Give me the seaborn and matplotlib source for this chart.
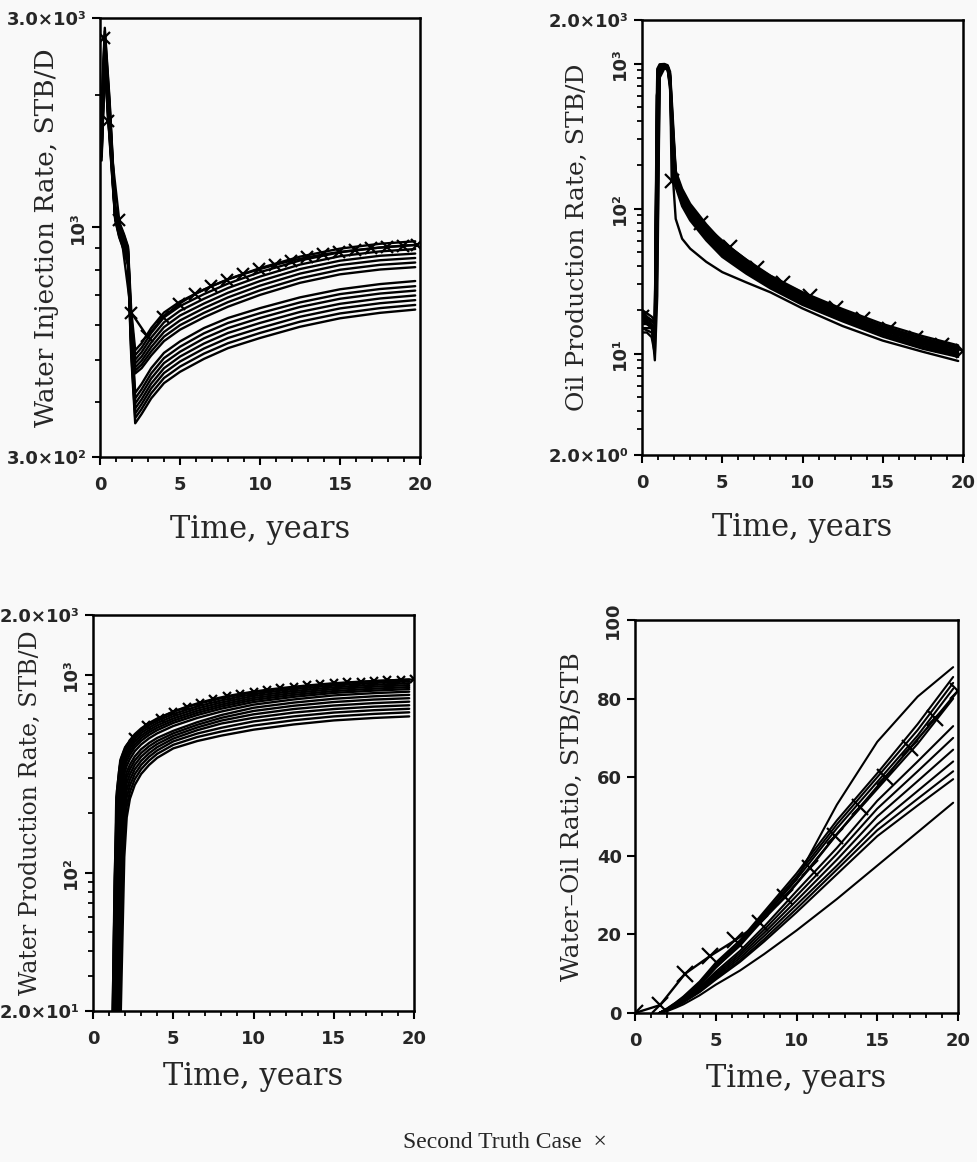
import numpy as np
import pandas as pd
import matplotlib
matplotlib.use("Agg")
import matplotlib.pyplot as plt
from matplotlib.ticker import FixedLocator, MultipleLocator, NullFormatter
import seaborn as sns

# ---------------- Water injection rate, STB/D ----------------
inj_time = [0.1, 0.3, 0.6, 0.95, 1.2, 1.5, 1.75, 1.95, 2.2, 2.6,
            3.2, 4.0, 5.0, 6.5, 8.0, 10.0, 12.5, 15.0, 17.5, 19.7]
inj_upper = [
    [1900, 2850, 1950, 1120, 1030, 965, 905, 650, 525, 545, 590, 640, 678, 722, 762, 808, 858, 895, 918, 930],
    [1780, 2750, 1880, 1100, 1015, 950, 890, 625, 512, 532, 575, 624, 662, 705, 745, 791, 841, 878, 900, 912],
    [1700, 2650, 1820, 1090, 1000, 938, 875, 605, 500, 520, 561, 608, 646, 688, 728, 773, 823, 860, 882, 893],
    [1620, 2560, 1760, 1075, 990, 925, 862, 590, 490, 508, 547, 593, 630, 671, 710, 755, 804, 840, 862, 872],
    [1560, 2480, 1700, 1065, 978, 912, 850, 575, 480, 497, 534, 578, 614, 655, 693, 737, 785, 821, 842, 852],
    [1500, 2420, 1650, 1055, 968, 900, 838, 560, 472, 487, 522, 564, 599, 639, 676, 719, 766, 801, 822, 832],
    [1450, 2360, 1600, 1045, 955, 888, 825, 548, 465, 478, 511, 551, 585, 624, 660, 702, 748, 782, 802, 812],
]
inj_lower = [
    [1850, 2800, 1920, 1110, 1022, 958, 898, 600, 420, 440, 478, 518, 550, 590, 622, 655, 693, 723, 743, 755],
    [1720, 2700, 1850, 1095, 1008, 945, 882, 580, 408, 428, 465, 504, 535, 574, 606, 638, 675, 705, 724, 735],
    [1640, 2600, 1790, 1082, 995, 932, 868, 562, 397, 417, 453, 491, 521, 559, 590, 622, 659, 688, 707, 718],
    [1580, 2520, 1730, 1070, 984, 920, 856, 548, 387, 406, 441, 478, 508, 544, 575, 606, 642, 670, 689, 700],
    [1520, 2450, 1680, 1060, 972, 908, 845, 535, 377, 396, 430, 466, 495, 530, 560, 590, 626, 654, 672, 683],
    [1470, 2390, 1630, 1050, 962, 896, 833, 522, 368, 386, 419, 454, 482, 516, 545, 575, 610, 637, 655, 666],
    [1420, 2330, 1580, 1040, 950, 884, 820, 510, 358, 376, 408, 442, 469, 502, 531, 560, 594, 621, 639, 650],
]
inj_truth_time = [0.25, 0.5, 1.2, 1.95, 2.95, 3.95, 4.95, 5.95, 6.95, 7.95, 8.95,
                  9.95, 10.95, 11.95, 12.95, 13.95, 14.95, 15.95, 16.95, 17.95, 18.95, 19.8]
inj_truth = [2700, 1750, 1040, 640, 565, 625, 670, 706, 735, 760, 783,
             803, 822, 840, 855, 868, 879, 888, 896, 903, 909, 913]

# ---------------- Oil production rate, STB/D ----------------
oil_time = [0.0, 0.3, 0.6, 0.8, 0.95, 1.1, 1.4, 1.6, 1.75, 1.9, 2.1,
            2.5, 3.0, 4.0, 5.0, 6.5, 8.0, 10.0, 12.5, 15.0, 17.5, 19.7]
oil_runs = [
    [20, 19, 18, 17, 920, 990, 995, 975, 880, 460, 182, 137, 108, 78, 59, 44.5, 34.5, 26.5, 20.3, 16.0, 13.2, 11.4],
    [19, 18, 17, 16, 880, 975, 985, 960, 850, 420, 176, 132, 104, 75.5, 57, 43, 33.6, 25.8, 19.7, 15.5, 12.8, 11.1],
    [18, 17.5, 17, 16, 700, 960, 975, 950, 820, 380, 171, 128, 101, 73, 55.5, 41.8, 32.8, 25.2, 19.2, 15.1, 12.5, 10.8],
    [17, 16.5, 16, 15, 500, 950, 970, 945, 800, 340, 166, 124, 98, 71, 54, 40.7, 32.0, 24.6, 18.7, 14.7, 12.2, 10.6],
    [16, 16, 15.5, 14, 300, 940, 965, 935, 780, 300, 161, 120, 95, 68.5, 52.5, 39.6, 31.2, 24.0, 18.3, 14.4, 11.9, 10.3],
    [15, 15, 15, 13, 150, 920, 960, 930, 760, 270, 156, 116, 92, 66.5, 51, 38.6, 30.4, 23.4, 17.9, 14.0, 11.6, 10.1],
    [15, 14.5, 14, 12, 80, 900, 950, 920, 740, 250, 151, 112, 89, 64.5, 49.5, 37.6, 29.6, 22.8, 17.5, 13.7, 11.3, 9.9],
    [14, 14, 13, 10, 40, 860, 940, 910, 720, 230, 146, 108, 86, 62.5, 48, 36.6, 28.9, 22.2, 17.1, 13.4, 11.1, 9.7],
    [20, 18, 16, 9, 25, 800, 930, 905, 700, 215, 141, 104, 83, 60.5, 46.5, 35.6, 28.2, 21.7, 16.7, 13.1, 10.8, 9.5],
    [18, 17, 15, 13, 600, 950, 980, 955, 830, 400, 173, 130, 102, 74, 56, 42.4, 33.2, 25.5, 19.4, 15.3, 12.6, 10.9],
    [17, 16, 15, 14, 400, 930, 960, 925, 660, 180, 85, 62, 53, 43, 36.5, 31, 26.5, 20.5, 15.5, 12.3, 10.3, 8.9],
]
oil_truth_time = [0.0, 0.4, 0.8, 0.92, 1.2, 1.6, 1.75, 1.85, 3.7, 5.5, 7.15,
                  8.8, 10.45, 12.1, 13.75, 15.4, 17.05, 18.7, 20.0]
oil_truth = [18, 17.5, 16.5, 600, 975, 960, 800, 155, 80, 54, 39,
             30.5, 25, 20.5, 17.3, 14.8, 12.9, 11.4, 10.5]

# ---------------- Water production rate, STB/D ----------------
wat_time = [1.2, 1.35, 1.5, 1.65, 1.8, 1.95, 2.1, 2.3, 2.6, 3.0,
            3.5, 4.0, 5.0, 6.5, 8.0, 10.0, 12.5, 15.0, 17.5, 19.7]
wat_runs = [
    [14, 95, 260, 340, 385, 415, 440, 465, 500, 535, 570, 600, 650, 710, 760, 815, 862, 900, 927, 945],
    [12, 80, 245, 325, 372, 402, 427, 452, 487, 521, 555, 584, 632, 691, 741, 798, 845, 882, 908, 925],
    [9, 45, 210, 305, 356, 388, 414, 439, 473, 507, 540, 569, 616, 674, 723, 780, 826, 863, 888, 905],
    [7, 25, 165, 280, 338, 372, 399, 425, 459, 492, 525, 554, 600, 657, 706, 762, 808, 845, 869, 885],
    [6, 16, 120, 252, 318, 355, 383, 410, 444, 478, 511, 539, 585, 641, 690, 745, 790, 826, 849, 865],
    [5, 12, 75, 220, 297, 337, 366, 394, 429, 463, 496, 524, 570, 625, 673, 727, 772, 808, 830, 845],
    [4, 9, 40, 180, 272, 315, 346, 375, 410, 444, 477, 505, 550, 604, 651, 705, 749, 785, 806, 820],
    [4, 7, 22, 130, 240, 290, 322, 351, 386, 420, 452, 479, 520, 575, 625, 680, 722, 755, 777, 790],
    [3, 6, 15, 90, 210, 268, 303, 333, 368, 402, 435, 462, 505, 558, 605, 655, 696, 727, 748, 760],
    [3, 5, 11, 55, 178, 245, 283, 314, 350, 385, 418, 446, 490, 541, 586, 630, 670, 698, 718, 730],
    [3, 4, 9, 32, 140, 220, 262, 295, 332, 367, 401, 430, 475, 524, 566, 605, 643, 670, 689, 700],
    [2, 4, 7, 20, 100, 192, 240, 276, 314, 350, 385, 414, 460, 504, 539, 580, 615, 643, 661, 672],
    [2, 3, 6, 14, 60, 160, 216, 256, 296, 333, 368, 398, 442, 484, 516, 553, 588, 615, 633, 645],
    [2, 3, 5, 10, 35, 120, 190, 236, 277, 315, 350, 380, 424, 462, 492, 527, 560, 587, 604, 615],
]
wat_truth_time = [1.2, 1.45, 1.7, 2.0, 2.5, 3.33, 4.17, 5.0, 5.83, 6.67, 7.5, 8.33, 9.17,
                  10.0, 10.83, 11.67, 12.5, 13.33, 14.17, 15.0, 15.83, 16.67, 17.5, 18.33, 19.17, 20.0]
wat_truth = [15, 240, 370, 430, 485, 555, 605, 650, 688, 722, 752, 778, 800,
             820, 838, 854, 868, 881, 893, 904, 913, 921, 928, 934, 940, 945]

# ---------------- Water-oil ratio, STB/STB ----------------
wor_time = [1.5, 2.0, 2.5, 3.0, 4.0, 5.0, 6.5, 8.0, 10.0, 12.5, 15.0, 17.5, 19.7]
wor_runs = [
    [0, 0.9, 2.2, 3.6, 7.0, 11.5, 17.5, 24.5, 34.0, 53.0, 69.0, 80.5, 88.0],
    [0, 1.2, 2.6, 4.2, 8.0, 12.8, 18.5, 25.8, 35.5, 49.0, 61.0, 73.5, 85.5],
    [0, 1.1, 2.5, 4.0, 7.7, 12.4, 18.0, 25.3, 34.7, 48.0, 60.0, 72.0, 84.0],
    [0, 1.0, 2.4, 3.9, 7.5, 12.0, 17.6, 24.8, 34.0, 47.0, 58.8, 70.6, 82.5],
    [0, 1.0, 2.3, 3.8, 7.2, 11.6, 17.1, 24.1, 33.0, 45.5, 57.0, 68.5, 80.0],
    [0, 0.9, 2.1, 3.4, 6.6, 10.5, 15.8, 22.0, 31.0, 42.0, 54.0, 64.0, 73.0],
    [0, 0.8, 2.0, 3.2, 6.3, 10.0, 15.2, 21.2, 29.8, 40.5, 52.0, 61.5, 70.0],
    [0, 0.8, 1.9, 3.1, 6.0, 9.6, 14.6, 20.4, 28.6, 39.0, 50.0, 59.0, 67.0],
    [0, 0.7, 1.8, 3.0, 5.8, 9.2, 14.0, 19.6, 27.5, 37.5, 48.0, 56.5, 64.0],
    [0, 0.7, 1.7, 2.8, 5.5, 8.8, 13.4, 18.8, 26.5, 36.5, 46.5, 54.5, 61.5],
    [0, 0.6, 1.6, 2.7, 5.3, 8.5, 13.0, 18.2, 25.6, 35.3, 45.0, 52.8, 59.5],
    [0, 0.5, 1.3, 2.2, 4.5, 7.2, 10.8, 15.0, 21.0, 29.0, 37.5, 46.0, 53.5],
]
wor_truth_time = [0.0, 1.55, 3.1, 4.65, 6.2, 7.75, 9.3, 10.85, 12.4, 13.95, 15.5, 17.05, 18.6, 20.0]
wor_truth = [0, 2, 10, 14.5, 18.5, 23, 29.5, 37, 45, 52.5, 60, 67.5, 75, 82]

time_ticks = [0, 5, 10, 15, 20]
time_ticklabels = ["0", "5", "10", "15", "20"]
xlabel = "Time, years"


def long_form(time, runs):
    frames = []
    for i, vals in enumerate(runs):
        frames.append(pd.DataFrame({"t": time, "v": vals, "run": i}))
    return pd.concat(frames, ignore_index=True)


sns.set_style("ticks")
plt.rcParams["font.family"] = ["DejaVu Sans"]
plt.rcParams["axes.edgecolor"] = "black"

BG = "#f9f9f9"
fig = plt.figure(figsize=(9.77, 11.62), dpi=100, facecolor=BG)
W, H = 977.0, 1162.0


def make_axes(left, top, right, bottom):
    return fig.add_axes([left / W, 1 - bottom / H, (right - left) / W, (bottom - top) / H], facecolor=BG)


ax1 = make_axes(100, 18, 420, 457)
ax2 = make_axes(642, 20, 963, 455)
ax3 = make_axes(93, 615, 414, 1011)
ax4 = make_axes(635, 620, 958, 1013)

tick_font = dict(family=["DejaVu Sans"], fontweight="bold", fontsize=13)


def draw_runs(ax, time, runs, lw=1.7):
    sns.lineplot(data=long_form(time, runs), x="t", y="v", units="run", estimator=None,
                 color="black", linewidth=lw, ax=ax, legend=False)


def draw_truth(ax, time, vals, first_mark, msize):
    sns.lineplot(x=time, y=vals, color="black", linewidth=1.7, ax=ax, legend=False,
                 estimator=None, sort=False)
    ax.plot(time[first_mark:], vals[first_mark:], linestyle="none", marker="x",
            markersize=msize, markeredgewidth=1.6, color="black")


def frame(ax, ylab, ylab_x, ylab_size, ylim, yticks, yticklabels, yminor=None, log=True):
    if log:
        ax.set_yscale("log")
    ax.set_xlim(0, 20)
    ax.set_ylim(*ylim)
    ax.xaxis.set_major_locator(FixedLocator(time_ticks))
    ax.xaxis.set_minor_locator(MultipleLocator(1))
    ax.set_xticklabels(time_ticklabels, **tick_font)
    ax.yaxis.set_major_locator(FixedLocator(yticks))
    ax.yaxis.set_minor_locator(FixedLocator(yminor if yminor is not None else []))
    ax.yaxis.set_minor_formatter(NullFormatter())
    labels = ax.set_yticklabels(yticklabels, **tick_font)
    for lab in labels:
        if lab.get_text().startswith("10"):
            lab.set_rotation(90)
            lab.set_va("center")
    for sp in ax.spines.values():
        sp.set_visible(True)
        sp.set_linewidth(1.8)
        sp.set_color("black")
    ax.tick_params(which="major", direction="out", length=5.5, width=1.5, color="black")
    ax.tick_params(which="minor", direction="out", length=3.5, width=1.3, color="black")
    ax.tick_params(axis="x", which="major", pad=8)
    ax.tick_params(axis="y", which="major", pad=4)
    ax.tick_params(top=False, right=False, which="both")
    ax.set_xlabel(xlabel, fontsize=22, family=["DejaVu Serif"], va="center")
    ax.xaxis.set_label_coords(0.5, -0.166)
    ax.set_ylabel(ylab, va="center", family=["DejaVu Serif"], fontsize=ylab_size)
    ax.yaxis.set_label_coords(ylab_x, 0.5)
    ax.grid(False)


# Water injection
draw_runs(ax1, inj_time, inj_upper)
draw_runs(ax1, inj_time, inj_lower)
draw_truth(ax1, inj_truth_time, inj_truth, 0, 8)
frame(ax1, "Water Injection Rate, STB/D", -0.166, 19, (300, 3000), [300, 1000, 3000],
      ["3.0×10²", "10³", "3.0×10³"], [400, 500, 600, 700, 800, 900, 2000])

# Oil production
draw_runs(ax2, oil_time, oil_runs)
draw_truth(ax2, oil_truth_time, oil_truth, 7, 10)
ax2.plot(oil_truth_time[:1], oil_truth[:1], linestyle="none", marker="x",
         markersize=10, markeredgewidth=1.6, color="black")
frame(ax2, "Oil Production Rate, STB/D", -0.2, 18, (2, 2000), [2, 10, 100, 1000, 2000],
      ["2.0×10⁰", "10¹", "10²", "10³", "2.0×10³"],
      [3, 4, 5, 6, 7, 8, 9, 20, 30, 40, 50, 60, 70, 80, 90,
       200, 300, 400, 500, 600, 700, 800, 900])

# Water production
draw_runs(ax3, wat_time, wat_runs)
draw_truth(ax3, wat_truth_time, wat_truth, 4, 6)
frame(ax3, "Water Production Rate, STB/D", -0.196, 17, (20, 2000), [20, 100, 1000, 2000],
      ["2.0×10¹", "10²", "10³", "2.0×10³"],
      [30, 40, 50, 60, 70, 80, 90, 200, 300, 400, 500, 600, 700, 800, 900])

# Water-oil ratio
draw_runs(ax4, wor_time, wor_runs, lw=1.5)
draw_truth(ax4, wor_truth_time, wor_truth, 0, 11)
frame(ax4, "Water–Oil Ratio, STB/STB", -0.195, 18, (0, 100), [0, 20, 40, 60, 80, 100],
      ["0", "20", "40", "60", "80", "100"], None, log=False)

fig.text(505 / W, 1 - 1143 / H, "Second Truth Case  ×", ha="center", va="center",
         family=["Liberation Serif"], fontsize=17)

fig.savefig("out.png", dpi=100, facecolor=BG)
